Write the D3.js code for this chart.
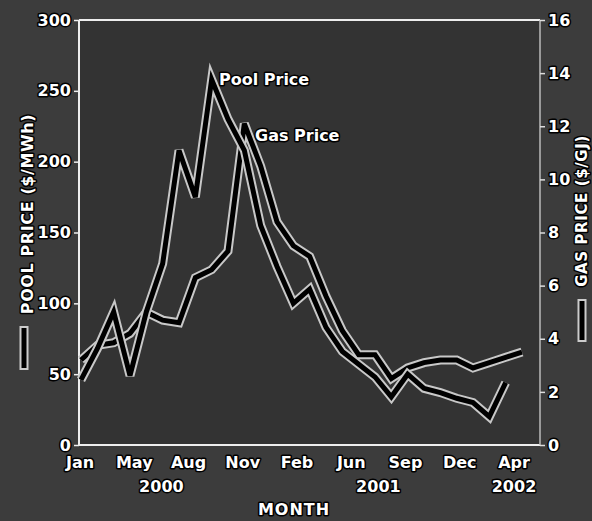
<!DOCTYPE html>
<html>
<head>
<meta charset="utf-8">
<script src="https://cdn.jsdelivr.net/npm/d3@7"></script>
<style>
  body { margin: 0; background: #3a3a3a; }
  text { font-family: "DejaVu Sans", sans-serif; font-weight: bold; fill: #fff;
         stroke: #000; stroke-width: 3px; paint-order: stroke; stroke-linejoin: round; }
</style>
</head>
<body>
<script>
const width = 592;
const height = 521;
const margin = {top: 20, left: 79, bottom: 76, right: 52};

// month index 0 = Jan 2000
const poolPrice = [46, 68, 94, 49, 94, 128, 208, 175, 258, 230, 208, 155, 126, 100,
                   110, 83, 66, 57, 48, 34, 50, 40, 37, 33, 30, 20, 44];
const gasPrice = [3.2, 3.75, 3.85, 4.2, 5.0, 4.7, 4.6, 6.3, 6.6, 7.3, 12.1, 10.5, 8.4, 7.5,
                  7.1, 5.6, 4.3, 3.4, 3.4, 2.5, 2.9, 3.1, 3.2, 3.2, 2.9, 3.1, 3.3, 3.5];
const monthLabels = ['Jan', 'May', 'Aug', 'Nov', 'Feb', 'Jun', 'Sep', 'Dec', 'Apr'];
const yearLabels = ['2000', '2001', '2002'];
const yearAt = [1.5, 5.5, 8];   // position in month-label slots
const poolTicks = [0, 50, 100, 150, 200, 250, 300];
const gasTicks = [0, 2, 4, 6, 8, 10, 12, 14, 16];

const x = d3.scaleLinear().domain([0, 27]).range([81, 522]);
const xLab = d3.scaleLinear().domain([0, monthLabels.length - 1]).range([80, 514]);
const yPool = d3.scaleLinear().domain([0, 300]).range([height - margin.bottom, margin.top]);
const yGas = d3.scaleLinear().domain([0, 16]).range([height - margin.bottom, margin.top]);

const svg = d3.select('body').append('svg').attr('width', width).attr('height', height);
const x0 = margin.left, x1 = width - margin.right, y0 = margin.top, y1 = height - margin.bottom;

svg.append('rect').attr('width', width).attr('height', height).attr('fill', '#3c3c3c');
svg.append('rect').attr('x', x0).attr('y', y0).attr('width', x1 - x0).attr('height', y1 - y0)
  .attr('fill', '#333');

// frame
svg.append('line').attr('x1', x0).attr('x2', x1).attr('y1', y0).attr('y2', y0)
  .attr('stroke', '#eee').attr('stroke-width', 2);
svg.append('line').attr('x1', x0).attr('x2', x1).attr('y1', y1).attr('y2', y1)
  .attr('stroke', '#eee').attr('stroke-width', 2);
svg.append('line').attr('x1', x0).attr('x2', x0).attr('y1', y0).attr('y2', y1)
  .attr('stroke', '#eee').attr('stroke-width', 2);
svg.append('line').attr('x1', x1).attr('x2', x1).attr('y1', y0).attr('y2', y1)
  .attr('stroke', '#bbb').attr('stroke-width', 1.5);

// left axis
const yAxisL = g => g
  .attr('transform', `translate(${x0}, 0)`)
  .call(d3.axisLeft(yPool).tickValues(poolTicks).tickSize(5).tickPadding(3))
  .call(g => g.select('.domain').remove())
  .call(g => g.selectAll('.tick line').attr('stroke', '#eee').attr('stroke-width', 1.5))
  .call(g => g.selectAll('.tick text').attr('font-size', 16).attr('fill', '#fff'));
svg.append('g').call(yAxisL);

// right axis
const yAxisR = g => g
  .attr('transform', `translate(${x1}, 0)`)
  .call(d3.axisRight(yGas).tickValues(gasTicks).tickSize(5).tickPadding(3))
  .call(g => g.select('.domain').remove())
  .call(g => g.selectAll('.tick line').attr('stroke', '#ddd').attr('stroke-width', 1.5))
  .call(g => g.selectAll('.tick text').attr('font-size', 16).attr('fill', '#fff'));
svg.append('g').call(yAxisR);

// month + year labels
svg.append('g').selectAll('text').data(monthLabels).enter().append('text')
  .attr('x', (d, i) => xLab(i)).attr('y', y1 + 23)
  .attr('text-anchor', 'middle').attr('font-size', 16).text(d => d);
svg.append('g').selectAll('text').data(yearLabels).enter().append('text')
  .attr('x', (d, i) => xLab(yearAt[i])).attr('y', y1 + 47)
  .attr('text-anchor', 'middle').attr('font-size', 16).text(d => d);

svg.append('text').attr('x', 294).attr('y', 515).attr('text-anchor', 'middle')
  .attr('font-size', 16).attr('letter-spacing', 1).text('MONTH');

// axis titles with line keys
svg.append('text').attr('transform', 'translate(33,214) rotate(-90)')
  .attr('text-anchor', 'middle').attr('font-size', 16).attr('letter-spacing', 0.6)
  .text('POOL PRICE ($/MWh)');
svg.append('text').attr('transform', 'translate(587,211) rotate(-90)')
  .attr('text-anchor', 'middle').attr('font-size', 15).attr('letter-spacing', 0.6)
  .text('GAS PRICE ($/GJ)');
[[24, 326, 370], [582, 299, 342]].forEach(k => {
  svg.append('line').attr('x1', k[0]).attr('x2', k[0]).attr('y1', k[1]).attr('y2', k[2])
    .attr('stroke', '#ccc').attr('stroke-width', 9);
  svg.append('line').attr('x1', k[0]).attr('x2', k[0]).attr('y1', k[1] + 2).attr('y2', k[2] - 2)
    .attr('stroke', '#000').attr('stroke-width', 5);
});

// lines
const poolLine = d3.line().x((d, i) => x(i)).y(d => yPool(d));
const gasLine = d3.line().x((d, i) => x(i)).y(d => yGas(d));
[[gasPrice, gasLine], [poolPrice, poolLine]].forEach(s => {
  svg.append('path').datum(s[0]).attr('d', s[1]).attr('fill', 'none')
    .attr('stroke', '#c8c8c8').attr('stroke-width', 9).attr('stroke-linejoin', 'miter');
  svg.append('path').datum(s[0]).attr('d', s[1]).attr('fill', 'none')
    .attr('stroke', '#000').attr('stroke-width', 5).attr('stroke-linejoin', 'miter');
});

svg.append('text').attr('x', 219).attr('y', 85).attr('font-size', 16).text('Pool Price');
svg.append('text').attr('x', 255).attr('y', 141).attr('font-size', 16).text('Gas Price');
</script>
</body>
</html>
